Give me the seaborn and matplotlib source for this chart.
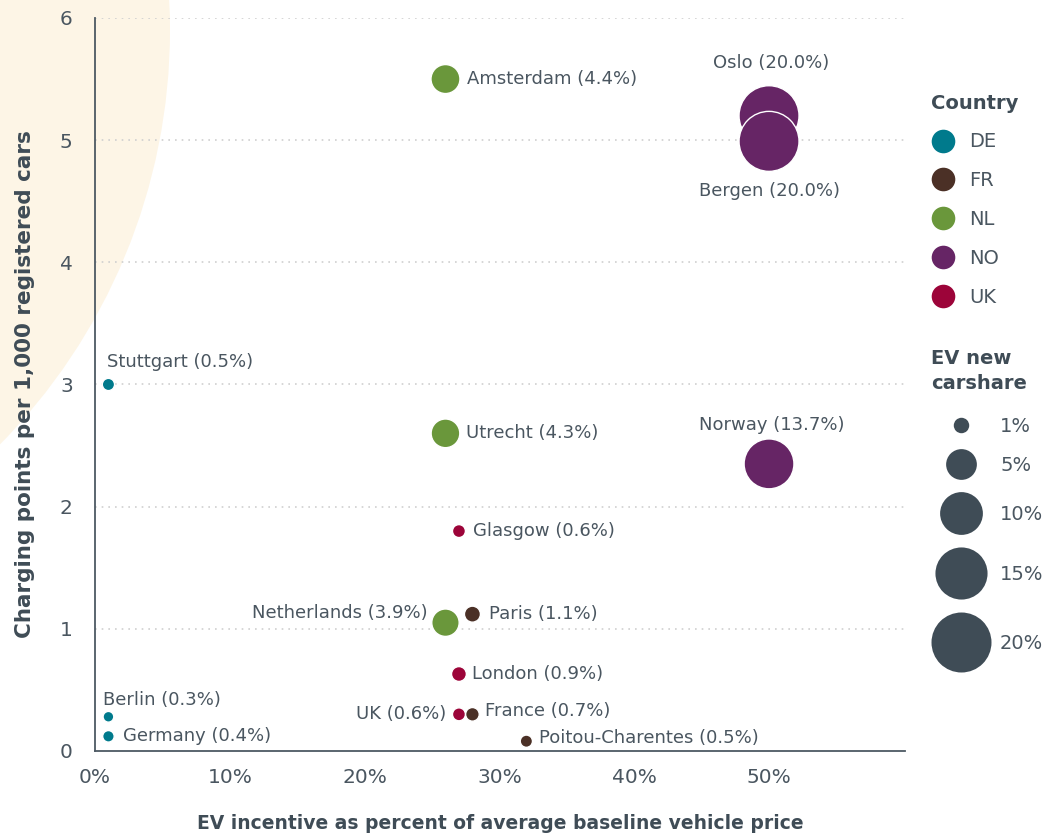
import numpy as np
import pandas as pd
import seaborn as sns
import matplotlib.pyplot as plt
from matplotlib.lines import Line2D
from matplotlib.patches import Circle
from matplotlib.transforms import IdentityTransform
from matplotlib.ticker import PercentFormatter
from matplotlib.legend_handler import HandlerLine2D

# --- data ---
cities = ["Stuttgart", "Berlin", "Germany", "Amsterdam", "Utrecht", "Netherlands",
          "Glasgow", "Paris", "London", "UK", "France", "Poitou-Charentes",
          "Oslo", "Bergen", "Norway"]
country = ["DE", "DE", "DE", "NL", "NL", "NL",
           "UK", "FR", "UK", "UK", "FR", "FR",
           "NO", "NO", "NO"]
incentive = [0.01, 0.01, 0.01, 0.26, 0.26, 0.26,
             0.27, 0.28, 0.27, 0.27, 0.28, 0.32,
             0.50, 0.50, 0.50]
chargers = [3.0, 0.28, 0.12, 5.5, 2.6, 1.05,
            1.8, 1.12, 0.63, 0.30, 0.30, 0.08,
            5.2, 4.99, 2.35]
ev_share = [0.5, 0.3, 0.4, 4.4, 4.3, 3.9,
            0.6, 1.1, 0.9, 0.6, 0.7, 0.5,
            20.0, 20.0, 13.7]

countries = ["DE", "FR", "NL", "NO", "UK"]
country_colors = ["#007a8c", "#4b3026", "#6a973b", "#662565", "#9c0439"]
legend_shares = [1, 5, 10, 15, 20]

# label placement: (dx px, dy px, ha)
label_pos = {
    "Stuttgart": (-1, 22, "left"), "Berlin": (-5, 17, "left"),
    "Germany": (15, 0, "left"), "Amsterdam": (22, 0, "left"),
    "Utrecht": (21, 0, "left"), "Netherlands": (-18, 10, "right"),
    "Glasgow": (14, 0, "left"), "Paris": (17, 0, "left"),
    "London": (13, 0, "left"), "UK": (-13, 0, "right"),
    "France": (13, 3, "left"), "Poitou-Charentes": (13, 3, "left"),
    "Oslo": (2, 53, "center"), "Bergen": (0, -50, "center"),
    "Norway": (3, 39, "center"),
}

df = pd.DataFrame({"city": cities, "country": country, "x": incentive,
                   "y": chargers, "share": ev_share})

TEXT = "#4a5660"
DARK = "#3f4c56"
S_MIN, S_MAX = 32, 1866          # marker area (pt^2) at 0% and 20%
SHARE_NORM = (0, 20)

sns.set_theme(style="white")
plt.rcParams["font.family"] = ["DejaVu Sans"]

fig = plt.figure(figsize=(10.55, 8.36), dpi=100)
ax = fig.add_axes([0.090, 0.1017, 0.768, 0.8768])
ax.set_facecolor("none")

# decorative cream circle behind the top-left corner
fig.patches.append(Circle((-420, 836 - 30), 590, transform=IdentityTransform(),
                          facecolor="#fdf5e6", edgecolor="none", zorder=-5))

sns.scatterplot(data=df, x="x", y="y", hue="country", hue_order=countries,
                palette=dict(zip(countries, country_colors)),
                size="share", sizes=(S_MIN, S_MAX), size_norm=SHARE_NORM,
                edgecolor="white", linewidth=1, alpha=1, legend=False,
                ax=ax, zorder=3)

for _, r in df.iterrows():
    dx, dy, ha = label_pos[r["city"]]
    ax.annotate(f"{r['city']} ({r['share']:.1f}%)", (r["x"], r["y"]),
                xytext=(dx, dy), textcoords="offset pixels",
                ha=ha, va="center", fontsize=13, color=TEXT, zorder=4)

ax.set_xlim(0, 0.601)
ax.set_ylim(0, 6)
ax.set_xticks([0, 0.1, 0.2, 0.3, 0.4, 0.5])
ax.set_yticks(range(7))
ax.xaxis.set_major_formatter(PercentFormatter(1.0, decimals=0))
ax.tick_params(length=0, labelsize=14.5, labelcolor=TEXT)
ax.tick_params(axis="y", pad=16)
ax.tick_params(axis="x", pad=12)
for y in range(1, 7):
    ax.axhline(y, color="#cfcfcf", lw=1.2, ls=(0, (1, 3)), zorder=1)
sns.despine(ax=ax)
for s in ("left", "bottom"):
    ax.spines[s].set_color("#4d5963")
    ax.spines[s].set_linewidth(1.3)

ax.set_xlabel("EV incentive as percent of average baseline vehicle price",
              fontsize=13.5, fontweight="bold", color=DARK, labelpad=19.5)
ax.set_ylabel("Charging points per 1,000 registered cars",
              fontsize=15.5, fontweight="bold", color=DARK, labelpad=18)


class SizedMarkerHandler(HandlerLine2D):
    """Row height follows the marker so big bubbles do not overlap."""

    def legend_artist(self, legend, orig_handle, fontsize, handlebox):
        d = orig_handle.get_markersize()
        c = 0.36 * fontsize
        h = max(d, fontsize)
        handlebox.height = h
        handlebox.ydescent = h / 2 - c
        artist = super().legend_artist(legend, orig_handle, fontsize, handlebox)
        for ch in handlebox.get_children():
            ch.set_ydata(np.full(len(ch.get_xdata()), c))
        return artist


def style_title(leg, spacing):
    t = leg.get_title()
    t.set_fontweight("bold")
    t.set_fontsize(14)
    t.set_color(DARK)
    t.set_linespacing(spacing)


# country legend
c_handles = [Line2D([], [], marker="o", ls="", markersize=17,
                    markerfacecolor=c, markeredgecolor="none")
             for c in country_colors]
leg1 = fig.legend(c_handles, countries, loc="upper left",
                  bbox_to_anchor=(0.8825, 0.888), frameon=False,
                  borderpad=0, borderaxespad=0,
                  title="Country", fontsize=14, labelcolor=TEXT,
                  labelspacing=1.02, handlelength=1.2, handletextpad=0.75,
                  alignment="left")
style_title(leg1, 1.2)


def share_size(v):
    return S_MIN + (v - SHARE_NORM[0]) / (SHARE_NORM[1] - SHARE_NORM[0]) * (S_MAX - S_MIN)


s_handles = [Line2D([], [], marker="o", ls="", markersize=np.sqrt(share_size(v)),
                    markerfacecolor=DARK, markeredgecolor="none")
             for v in legend_shares]
leg2 = fig.legend(s_handles, [f"{v}%" for v in legend_shares], loc="upper left",
                  bbox_to_anchor=(0.8825, 0.583), frameon=False,
                  borderpad=0, borderaxespad=0,
                  title="EV new\ncarshare", fontsize=14, labelcolor=TEXT,
                  labelspacing=0.65, handlelength=3.1, handletextpad=0.45,
                  alignment="left",
                  handler_map={Line2D: SizedMarkerHandler()})
style_title(leg2, 1.45)
# a bit more room between the title and the first bubble
leg2._legend_box.sep = 0.65 * 14 + 6.5

fig.savefig("out.png", dpi=100)
